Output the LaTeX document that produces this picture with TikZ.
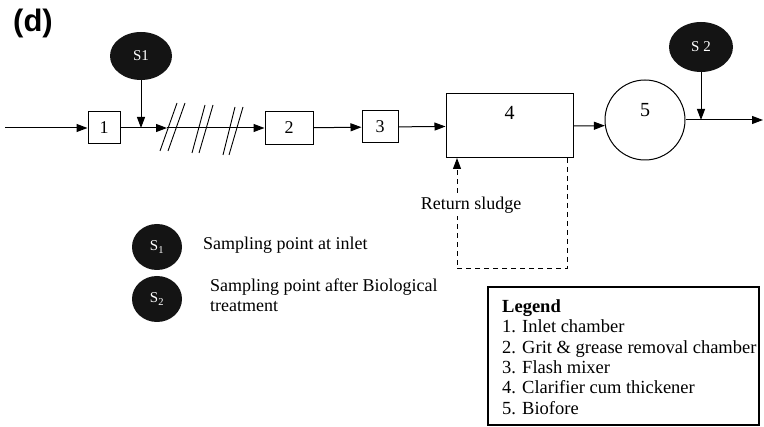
\documentclass[tikz,border=0pt]{standalone}
\usepackage{fontspec}
\setmainfont{Liberation Serif}
\newfontfamily\headfont{Liberation Sans}
\usetikzlibrary{arrows.meta,calc,shapes.geometric}
\begin{document}
\begin{tikzpicture}[x=1pt,y=-1pt,
  every node/.style={font=\fontsize{18}{20.4}\selectfont},
  flow/.style={line width=1pt, -{Triangle[length=11pt,width=8pt]}},
  unit/.style={draw, line width=1pt, inner sep=0pt, font=\fontsize{18}{20}\selectfont},
  spot/.style={ellipse, fill=black!92, inner sep=0pt, text=white, font=\fontsize{15}{18}\selectfont},
  hash/.style={line width=0.9pt},
  txt/.style={inner sep=0pt, align=left},
  returnline/.style={line width=1pt, dash pattern=on 5pt off 4pt, -{Triangle[length=11pt,width=8pt]}}
]
\useasboundingbox (0,0) rectangle (764,427);

% title
\node[font=\headfont\bfseries\fontsize{31}{31}\selectfont, inner sep=0pt] (d) at (33,23) {(d)};

% sampling point S1
\node[spot, minimum width=62pt, minimum height=48pt] (s1) at (141,56) {S1};

% units
\node[unit, minimum width=32pt, minimum height=32pt] (b1) at (104,128) {1};
\node[unit, minimum width=48pt, minimum height=33pt] (b2) at (289,128) {2};
\node[unit, minimum width=36pt, minimum height=32pt] (b3) at (380,127) {3};
\node[unit, minimum width=127pt, minimum height=64pt,
      label={[anchor=center, yshift=-19pt, font=\fontsize{20}{22}\selectfont]north:4}] (b4) at (509.5,126) {};
\node[draw, circle, line width=1pt, minimum size=80pt, inner sep=0pt,
      label={[anchor=center, yshift=-31pt, font=\fontsize{20}{22}\selectfont]north:5}] (b5) at (645,120) {};

% sampling point S2
\node[spot, minimum width=64pt, minimum height=50pt] (s2) at (701,47) {S 2};

% coordinates for free ends
\coordinate (in) at (5,128);
\coordinate (h) at (167,128);
\coordinate (j1) at (141,128);
\coordinate (out) at (763,120);
\coordinate (j2) at (701,120);

% main flow
\draw[flow] (in) -- (b1);
\draw[flow] (b1) -- (h);
\draw[flow] (h) -- (b2);
\draw[flow] (b2) -- (b3);
\draw[flow] (b3) -- (b4);
\draw[flow] (b4.east) -- (b5.188);
\draw[flow] (b5.east) -- (out);

% sampling arrows
\draw[flow] (s1) -- (j1);
\draw[flow] (s2) -- (j2);

% hash marks (screens)
\draw[hash] (160,151) -- (177,103);
\draw[hash] (168,151) -- (185,103);
\draw[hash] (192,153) -- (205,105);
\draw[hash] (199,153) -- (213,105);
\draw[hash] (223,155) -- (235,107);
\draw[hash] (229,155) -- (243,107);

% return sludge
\coordinate (ra) at (567,158);
\coordinate (rb) at (567,269);
\coordinate (rc) at (457,269);
\coordinate (rd) at (457,158);
\draw[returnline] (ra) -- (rb) -- (rc) -- (rd);
\node[fill=white, inner sep=3pt] (rs) at (471,205) {Return sludge};

% sampling legend
\node[spot, minimum width=50pt, minimum height=46pt] (l1) at (157,247) {S\textsubscript{1}};
\node[spot, minimum width=50pt, minimum height=46pt] (l2) at (157,299) {S\textsubscript{2}};
\node[txt, anchor=west] (t1) at (203,245) {Sampling point at inlet};
\node[txt, anchor=west] (t2) at (210,295) {Sampling point after Biological\\treatment};

% legend box
\node[draw, line width=1.2pt, minimum width=271pt, minimum height=138pt, inner sep=0pt] (legbox) at (623.5,356) {};
\node[txt, anchor=west, font=\fontsize{18.5}{20.4}\selectfont] (legtext) at (502,357)
  {\textbf{Legend}\\1. Inlet chamber\\2. Grit \& grease removal chamber\\3. Flash mixer\\4. Clarifier cum thickener\\5. Biofore};
\end{tikzpicture}
\end{document}
